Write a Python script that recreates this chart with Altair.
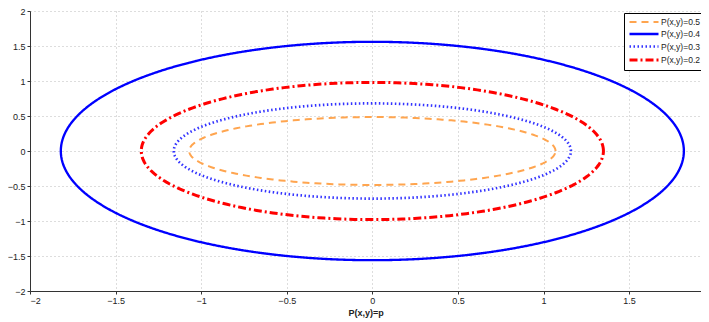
import altair as alt
import numpy as np
import pandas as pd

# Series: legend label, semi-axis along x, semi-axis along y
labels = ["P(x,y)=0.5", "P(x,y)=0.4", "P(x,y)=0.3", "P(x,y)=0.2"]
semi_x = [1.07, 1.82, 1.16, 1.35]
semi_y = [0.485, 1.56, 0.68, 0.98]
colors = ["#FFA54F", "#0000FF", "#3333FF", "#FF0000"]
dashes = [[7, 5], [1, 0], [1.5, 2.5], [8, 3, 2, 3]]
widths = [2, 3, 1.5, 3]

x_ticks = [-2, -1.5, -1, -0.5, 0, 0.5, 1, 1.5]
y_ticks = [-2, -1.5, -1, -0.5, 0, 0.5, 1, 1.5, 2]

rows = []
t = np.linspace(0, 2 * np.pi, 241)
for lab, a, b in zip(labels, semi_x, semi_y):
    for i, tt in enumerate(t):
        rows.append({"series": lab, "i": i, "x": a * np.cos(tt), "y": b * np.sin(tt)})
df = pd.DataFrame(rows)

font = "Liberation Sans"

chart = alt.Chart(df).mark_line().encode(
    x=alt.X("x:Q", scale=alt.Scale(domain=[-2, 1.92], nice=False, zero=False),
            axis=alt.Axis(values=x_ticks, format="~g", title="P(x,y)=p", grid=True)),
    y=alt.Y("y:Q", scale=alt.Scale(domain=[-2, 2], nice=False, zero=False),
            axis=alt.Axis(values=y_ticks, format="~g", title=None, grid=True)),
    color=alt.Color("series:N", scale=alt.Scale(domain=labels, range=colors),
                    sort=labels, legend=alt.Legend(title=None)),
    strokeDash=alt.StrokeDash("series:N", scale=alt.Scale(domain=labels, range=dashes),
                              sort=labels, legend=alt.Legend(title=None)),
    strokeWidth=alt.StrokeWidth("series:N", scale=alt.Scale(domain=labels, range=widths),
                                legend=None),
    order="i:Q",
).properties(
    width=671, height=280,
    autosize=alt.AutoSizeParams(type="none"),
    padding={"left": 22, "top": 3, "right": 0, "bottom": 30},
).configure_view(
    stroke=None
).configure_axis(
    labelFont=font, labelFontSize=9, labelColor="#222222",
    titleFont=font, titleFontSize=9, titleFontWeight="bold", titleColor="#222222",
    domainColor="#333333", domainWidth=1,
    tickColor="#333333", tickSize=3,
    gridColor="#bbbbbb", gridDash=[1, 3], gridWidth=1,
    labelPadding=2,
).configure_axisX(
    titlePadding=3,
).configure_legend(
    orient="none", legendX=594, legendY=2,
    strokeColor="#000000", fillColor="#ffffff", padding=4,
    labelFont=font, labelFontSize=8.5, labelColor="#222222",
    symbolType="M-1,0H6.25", symbolSize=64, symbolStrokeWidth=1.8,
    labelOffset=22, rowPadding=1.5, cornerRadius=0,
)

chart.save("out.html", embed_options={"renderer": "svg", "actions": False})
